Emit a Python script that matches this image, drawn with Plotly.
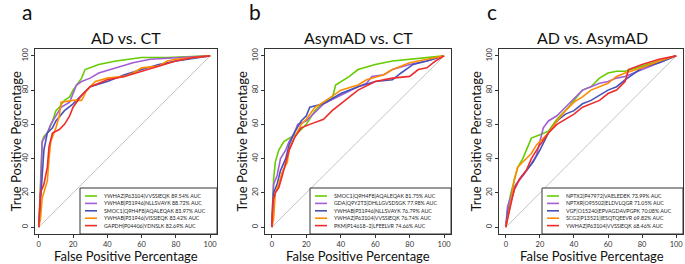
import plotly.graph_objects as go

W, H = 685, 264

# ---------------- data ----------------
panel_titles = ["AD vs. CT", "AsymAD vs. CT", "AD vs. AsymAD"]
panel_letters = ["a", "b", "c"]
colors = ["#66cc00", "#a35ed6", "#4652b8", "#ff8c00", "#ee2c2c"]

# Panel a
a_names = ["YWHAZ|P63104|VVSSIEQK 89.54% AUC",
           "YWHAB|P31946|NLLSVAYK 88.72% AUC",
           "SMOC1|Q9H4F8|AQALEQAK 83.97% AUC",
           "YWHAB|P31946|VISSIEQK 83.42% AUC",
           "GAPDH|P04406|YDNSLK 82.69% AUC"]
a_fpr = [
    [0, 0.5, 1, 2, 3, 5, 8, 10, 12, 15, 18, 20, 22, 25, 27, 30, 35, 45, 60, 75, 100],
    [0, 0.5, 1, 2, 5, 7, 10, 13, 18, 20, 22, 25, 30, 35, 45, 55, 65, 80, 100],
    [0, 0.5, 1, 2, 3, 5, 8, 10, 15, 20, 25, 28, 30, 40, 50, 60, 70, 80, 100],
    [0, 0.5, 1, 2, 3, 5, 6, 7, 10, 12, 13, 20, 25, 28, 33, 40, 50, 55, 60, 70, 75, 80, 100],
    [0, 0.5, 1, 3, 5, 6, 8, 12, 15, 18, 20, 25, 30, 35, 40, 50, 60, 70, 80, 90, 100],
]
a_tpr = [
    [0, 10, 25, 50, 53, 55, 62, 68, 70, 74, 76, 80, 83, 87, 92, 93, 95, 97, 99, 99, 100],
    [0, 8, 20, 50, 55, 60, 65, 70, 73, 78, 83, 85, 87, 90, 93, 96, 98, 99, 100],
    [0, 5, 15, 30, 45, 55, 58, 62, 68, 72, 77, 80, 82, 85, 89, 92, 95, 97, 100],
    [0, 3, 5, 17, 20, 27, 40, 50, 58, 65, 73, 74, 74, 80, 85, 87, 88, 90, 93, 94, 97, 98, 100],
    [0, 10, 20, 25, 35, 47, 55, 57, 60, 65, 70, 77, 82, 84, 86, 88, 91, 94, 97, 99, 100],
]

# Panel b
b_names = ["SMOC1|Q9H4F8|AQALEQAK 81.75% AUC",
           "GDA|Q9Y2T3|DHLLGVSDSGK 77.98% AUC",
           "YWHAB|P31946|NLLSVAYK 76.79% AUC",
           "YWHAZ|P63104|VVSSIEQK 76.74% AUC",
           "PKM|P14618\u22122|LFEELVR 74.66% AUC"]
b_fpr = [
    [0, 0.5, 1, 2, 4, 7, 10, 15, 20, 25, 30, 35, 37, 40, 45, 50, 60, 70, 80, 90, 100],
    [0, 0.5, 1, 3, 5, 8, 10, 13, 15, 20, 25, 30, 40, 50, 55, 58, 65, 70, 80, 90, 100],
    [0, 0.5, 1, 3, 5, 8, 10, 13, 17, 20, 22, 30, 40, 50, 60, 70, 75, 82, 90, 100],
    [0, 1, 2, 4, 6, 9, 10, 13, 17, 20, 25, 30, 40, 50, 55, 65, 70, 80, 90, 100],
    [0, 0.5, 2, 4, 6, 8, 10, 13, 17, 22, 30, 35, 40, 50, 60, 70, 80, 85, 90, 95, 100],
]
b_tpr = [
    [0, 20, 28, 38, 45, 50, 52, 55, 60, 68, 73, 75, 83, 85, 88, 92, 95, 97, 98, 99, 100],
    [0, 10, 25, 30, 40, 45, 50, 55, 60, 62, 67, 72, 77, 82, 84, 88, 89, 92, 95, 97, 100],
    [0, 8, 20, 25, 33, 40, 48, 55, 62, 65, 70, 72, 78, 82, 85, 86, 90, 95, 97, 100],
    [0, 5, 20, 25, 32, 38, 45, 52, 60, 63, 70, 73, 80, 83, 86, 89, 92, 96, 98, 100],
    [0, 15, 20, 23, 30, 38, 45, 52, 58, 60, 63, 68, 72, 80, 85, 87, 88, 92, 93, 97, 100],
]

# Panel c
c_names = ["NPTX2|P47972|VAELEDEK 73.99% AUC",
           "NPTXR|O95502|ELDVLQGR 71.05% AUC",
           "VGF|O15240|EPVAGDAVPGPK 70.08% AUC",
           "SCG2|P13521|IESQTQEEVR 69.82% AUC",
           "YWHAZ|P63104|VVSSIEQK 68.46% AUC"]
c_fpr = [
    [0, 1, 3, 5, 7, 10, 13, 15, 20, 25, 30, 35, 40, 45, 50, 55, 60, 65, 70, 80, 90, 100],
    [0, 1, 3, 4, 6, 10, 15, 18, 20, 22, 25, 30, 35, 40, 45, 50, 55, 60, 65, 70, 80, 90, 100],
    [0, 1, 3, 5, 8, 12, 16, 20, 25, 30, 35, 40, 45, 50, 55, 60, 65, 70, 80, 90, 100],
    [0, 1, 3, 5, 7, 10, 15, 18, 22, 25, 30, 35, 40, 45, 50, 55, 60, 65, 70, 80, 90, 100],
    [0, 2, 4, 5, 8, 12, 15, 20, 25, 30, 35, 40, 45, 50, 55, 60, 65, 70, 72, 80, 90, 100],
]
c_tpr = [
    [0, 10, 20, 28, 35, 40, 47, 52, 54, 56, 63, 68, 74, 80, 82, 87, 90, 91, 91, 94, 97, 100],
    [0, 12, 18, 22, 25, 30, 37, 42, 50, 58, 62, 65, 70, 75, 80, 82, 84, 85, 87, 88, 92, 96, 100],
    [0, 8, 15, 22, 28, 33, 38, 45, 55, 62, 66, 68, 72, 74, 77, 80, 82, 86, 93, 96, 100],
    [0, 5, 15, 28, 35, 38, 43, 48, 52, 55, 62, 68, 73, 76, 80, 82, 84, 88, 90, 93, 97, 100],
    [0, 10, 18, 22, 28, 33, 40, 48, 55, 60, 63, 66, 70, 72, 74, 78, 80, 85, 92, 95, 98, 100],
]

tick_vals = [0, 20, 40, 60, 80, 100]
diag = [0, 100]

panels = [
    (a_names, a_fpr, a_tpr),
    (b_names, b_fpr, b_tpr),
    (c_names, c_fpr, c_tpr),
]

# ---------------- layout geometry (pixels) ----------------
box_x = [(35, 217), (265, 451), (499, 683)]
box_top, box_bot = 49, 234
x_ranges = [[-2.2, 104], [-4, 104], [-4, 104]]
y_range = [-4, 104]
title_x = [126, 358, 592]
letter_x = [27, 255, 492]
ytitle_x = [15, 241, 475]
legend_left = [80, 310, 542]
FONT = "Lato"


def px(x):
    return x / W


def py(y):
    return 1 - y / H


fig = go.Figure()
annotations = []
shapes = []

for i, (names, fprs, tprs) in enumerate(panels):
    ax = "" if i == 0 else str(i + 1)
    xa, ya = "x" + ax, "y" + ax
    fig.add_trace(go.Scatter(x=diag, y=diag, mode="lines",
                             line=dict(color="#b5b5b5", width=0.8),
                             xaxis=xa, yaxis=ya, showlegend=False, hoverinfo="skip"))
    for k in range(len(names)):
        fig.add_trace(go.Scatter(x=fprs[k], y=tprs[k], mode="lines", name=names[k],
                                 line=dict(color=colors[k], width=1.6),
                                 xaxis=xa, yaxis=ya, showlegend=False))
    axcommon = dict(showline=True, mirror=True, linecolor="#333333", linewidth=1,
                    ticks="outside", ticklen=3, tickcolor="#333333", tickwidth=0.8,
                    showgrid=False, zeroline=False, tickvals=tick_vals,
                    tickfont=dict(family=FONT, size=7.5, color="#333333"))
    fig.update_layout(**{
        "xaxis" + ax: dict(domain=[px(box_x[i][0]), px(box_x[i][1])], range=x_ranges[i],
                           anchor=ya, **axcommon),
        "yaxis" + ax: dict(domain=[py(box_bot), py(box_top)], range=y_range,
                           anchor=xa, tickangle=-90, **axcommon),
    })
    # titles
    annotations.append(dict(text=panel_titles[i], x=px(title_x[i]), y=py(37), xref="paper",
                            yref="paper", showarrow=False, xanchor="center", yanchor="middle",
                            font=dict(family=FONT, size=16, color="#111111")))
    annotations.append(dict(text=panel_letters[i], x=px(letter_x[i]), y=py(12), xref="paper",
                            yref="paper", showarrow=False, xanchor="center", yanchor="middle",
                            font=dict(family=FONT, size=21, color="#111111")))
    annotations.append(dict(text="False Positive Percentage", x=px(title_x[i]), y=py(256),
                            xref="paper", yref="paper", showarrow=False, xanchor="center",
                            yanchor="middle", font=dict(family=FONT, size=13, color="#111111")))
    annotations.append(dict(text="True Positive Percentage", x=px(ytitle_x[i]),
                            y=py((box_top + box_bot) / 2), xref="paper", yref="paper",
                            showarrow=False, textangle=-90, xanchor="center", yanchor="middle",
                            font=dict(family=FONT, size=13, color="#111111")))
    # legend box
    L = legend_left[i]
    shapes.append(dict(type="rect", xref="paper", yref="paper", x0=px(L), x1=px(box_x[i][1]),
                       y0=py(box_bot), y1=py(188), line=dict(color="#333333", width=1),
                       fillcolor="white", layer="above"))
    for k in range(len(names)):
        yy = 196 + k * 7.4
        shapes.append(dict(type="line", xref="paper", yref="paper", x0=px(L + 5), x1=px(L + 17),
                           y0=py(yy), y1=py(yy), line=dict(color=colors[k], width=1.6),
                           layer="above"))
        annotations.append(dict(text=names[k], x=px(L + 22), y=py(yy), xref="paper",
                                yref="paper", showarrow=False, xanchor="left", yanchor="middle",
                                font=dict(family=FONT, size=5.3, color="#222222")))

fig.update_layout(width=W, height=H, margin=dict(l=0, r=0, t=0, b=0),
                  paper_bgcolor="white", plot_bgcolor="white",
                  annotations=annotations, shapes=shapes, showlegend=False)

fig.write_html("out.html",
               config={"displayModeBar": False},
               post_script="document.body.style.margin='0';document.body.style.padding='0';"
                           "document.body.style.overflow='hidden';")
